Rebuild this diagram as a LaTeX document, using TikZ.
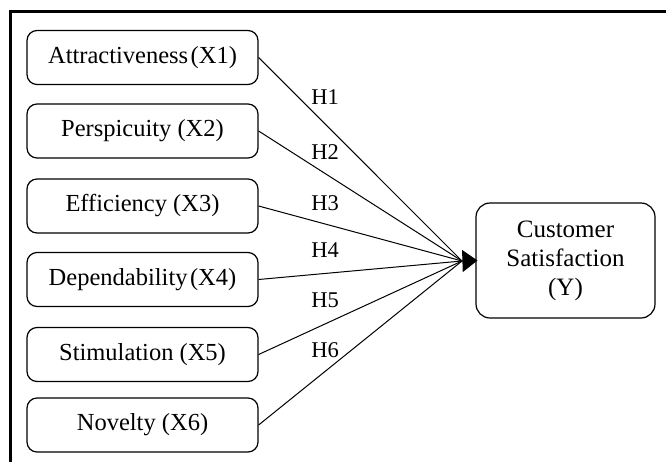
\documentclass[tikz,border=0pt]{standalone}
\usepackage{fontspec}
\setmainfont{Liberation Serif}
\usetikzlibrary{arrows.meta}
\begin{document}
\begin{tikzpicture}[x=1pt,y=-1pt,
  box/.style={draw, rounded corners=10pt, line width=1.2pt, minimum width=231pt, minimum height=54pt, inner sep=0pt, font=\fontsize{24.5}{29}\selectfont},
  ybox/.style={draw, rounded corners=14pt, line width=1.2pt, minimum width=179pt, minimum height=115pt, inner sep=0pt, align=center, font=\fontsize{25}{29}\selectfont},
  link/.style={line width=1pt},
  hlab/.style={inner sep=0pt, font=\fontsize{22.5}{26}\selectfont}]
\useasboundingbox (0,0) rectangle (666,461);
\clip (0,0) rectangle (666,461);
\draw[line width=3pt] (10,480) -- (10,11) -- (690,11);

\node[box] (x1) at (142.5,57.5) {Attractiveness\hspace{0.1em}(X1)};
\node[box] (x2) at (142.5,131) {Perspicuity (X2)};
\node[box] (x3) at (142.5,206) {Efficiency (X3)};
\node[box] (x4) at (142.5,279.5) {Dependability\hspace{0.1em}(X4)};
\node[box] (x5) at (142.5,354.5) {Stimulation (X5)};
\node[box] (x6) at (142.5,425) {Novelty (X6)};

\node[ybox] (y) at (565.5,260.5) {Customer\\Satisfaction\\(Y)};

\coordinate (m) at (462,261);

\foreach \i in {1,...,6} {\draw[link] (x\i.east) -- (m);}
\draw[line width=1pt, -{Triangle[length=15pt,width=22pt]}] (m) -- ([xshift=2pt]y.west);

\node[hlab] (h1) at (325,97) {H1};
\node[hlab] (h2) at (325,152) {H2};
\node[hlab] (h3) at (325,203) {H3};
\node[hlab] (h4) at (325,250) {H4};
\node[hlab] (h5) at (325,300) {H5};
\node[hlab] (h6) at (325,350) {H6};
\end{tikzpicture}
\end{document}
